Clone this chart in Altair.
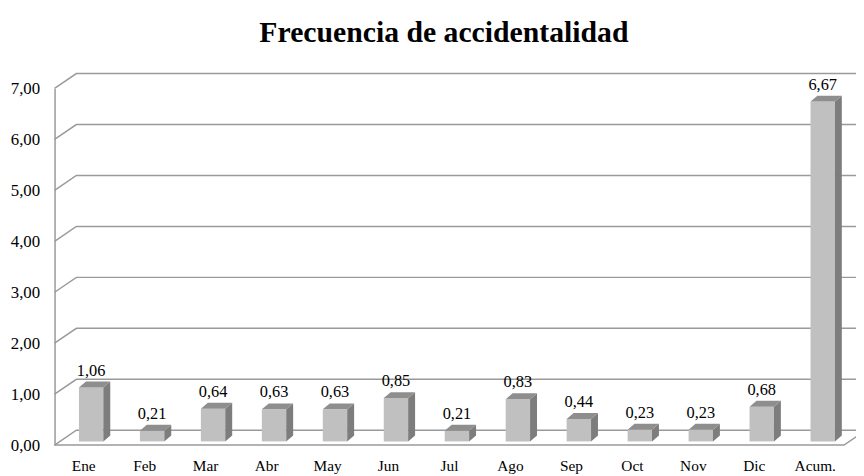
import json
import altair as alt
import pandas as pd

# ---- data ----
months = ["Ene", "Feb", "Mar", "Abr", "May", "Jun", "Jul", "Ago", "Sep", "Oct", "Nov", "Dic", "Acum."]
values = [1.06, 0.21, 0.64, 0.63, 0.63, 0.85, 0.21, 0.83, 0.44, 0.23, 0.23, 0.68, 6.67]
y_ticks = [0, 1, 2, 3, 4, 5, 6, 7]
title_text = "Frecuencia de accidentalidad"

# ---- geometry (style) ----
W, H = 800, 360
XMAX, YMAX = 13, 7
ux, uy = W / XMAX, H / YMAX
wall_dx, wall_dy = 22 / ux, 15 / uy      # perspective of the back wall
bar_dx, bar_dy = 7 / ux, 6 / uy          # depth of a bar
base = 3.7 / uy                          # bar sits a little behind the floor front
bar_left, bar_w = 0.40, 0.40
xlab_pos, vlab_pos = 0.47, 0.60
grid_end = 13.6
floor_end = 12.95

GRID = "#9a9a9a"
FRONT, SIDE, TOP = "#c0c0c0", "#7d7d7d", "#8e8e8e"
FONT = "Liberation Serif"

# ---- tables built from the arrays ----
front = pd.DataFrame({
    "month": months,
    "L": [i + bar_left for i in range(len(months))],
    "R": [i + bar_left + bar_w for i in range(len(months))],
    "b": [base] * len(months),
    "t": [v + base for v in values],
    "lx": [i + vlab_pos for i in range(len(months))],
    "ly": [v + base + bar_dy for v in values],
    "label": [f"{v:.2f}".replace(".", ",") for v in values],
})

side_rows, top_rows = [], []
for i, v in enumerate(values):
    L = i + bar_left
    R = L + bar_w
    t = v + base
    side_rows += [
        {"id": i, "x": R, "y": t, "y2": base},
        {"id": i, "x": R + bar_dx, "y": t + bar_dy, "y2": base + bar_dy},
    ]
    top_rows += [
        {"id": i, "x": L, "y": t, "y2": t},
        {"id": i, "x": L + bar_dx, "y": t + bar_dy, "y2": t},
        {"id": i, "x": R, "y": t + bar_dy, "y2": t},
        {"id": i, "x": R + bar_dx, "y": t + bar_dy, "y2": t + bar_dy},
    ]
side = pd.DataFrame(side_rows)
top = pd.DataFrame(top_rows)

grid_rows = []
for v in y_ticks:
    grid_rows += [
        {"v": v, "k": 0, "x": 0, "y": v},
        {"v": v, "k": 1, "x": wall_dx, "y": v + wall_dy},
        {"v": v, "k": 2, "x": grid_end, "y": v + wall_dy},
    ]
grid = pd.DataFrame(grid_rows)
floor = pd.DataFrame([
    {"k": 0, "x": 0, "y": 0},
    {"k": 1, "x": floor_end, "y": 0},
    {"k": 2, "x": floor_end + wall_dx, "y": wall_dy},
])

# ---- scales / axes ----
xs = alt.Scale(domain=[0, XMAX], nice=False, zero=False)
ys = alt.Scale(domain=[0, YMAX], nice=False, zero=False)
names_js = json.dumps(months)
x_axis = alt.Axis(
    values=[i + xlab_pos for i in range(len(months))],
    labelExpr=f"{names_js}[round(datum.value - {xlab_pos})]",
    domain=False, ticks=False, grid=False, title=None,
    labelFont=FONT, labelFontSize=15.5, labelColor="black", labelPadding=14,
)
y_axis = alt.Axis(
    values=y_ticks,
    labelExpr="replace(format(datum.value, '.2f'), '.', ',')",
    domain=True, domainColor=GRID, domainWidth=1.5, ticks=False, grid=False, title=None,
    labelFont=FONT, labelFontSize=17, labelColor="black", labelPadding=15,
)

def X(f):
    return alt.X(f, type="quantitative", scale=xs, axis=x_axis)

def Y(f):
    return alt.Y(f, type="quantitative", scale=ys, axis=y_axis)

grid_layer = alt.Chart(grid).mark_line(color=GRID, strokeWidth=1.5).encode(
    x=X("x"), y=Y("y"), detail="v:N", order="k:Q")
floor_layer = alt.Chart(floor).mark_line(color=GRID, strokeWidth=1.5).encode(
    x=X("x"), y=Y("y"), order="k:Q")
front_layer = alt.Chart(front).mark_rect(color=FRONT).encode(
    x=X("L"), x2="R", y=Y("b"), y2="t")
side_layer = alt.Chart(side).mark_area(color=SIDE, opacity=1).encode(
    x=X("x"), y=Y("y"), y2="y2", detail="id:N")
top_layer = alt.Chart(top).mark_area(color=TOP, opacity=1).encode(
    x=X("x"), y=Y("y"), y2="y2", detail="id:N")
text_layer = alt.Chart(front).mark_text(
    font=FONT, fontSize=16.5, color="black", baseline="alphabetic", dy=-6
).encode(x=X("lx"), y=Y("ly"), text="label:N")

chart = alt.layer(
    grid_layer, floor_layer, front_layer, side_layer, top_layer, text_layer
).properties(
    width=W, height=H,
    title=alt.Title(title_text, font=FONT, fontSize=30, fontWeight="bold",
                    color="black", anchor="middle", dx=-7, offset=23),
    autosize=alt.AutoSizeParams(type="none"),
    padding={"left": 47, "top": 79, "right": 9, "bottom": 29},
).configure_view(stroke=None)

chart.save("out.html", embed_options={"renderer": "svg", "actions": False})
